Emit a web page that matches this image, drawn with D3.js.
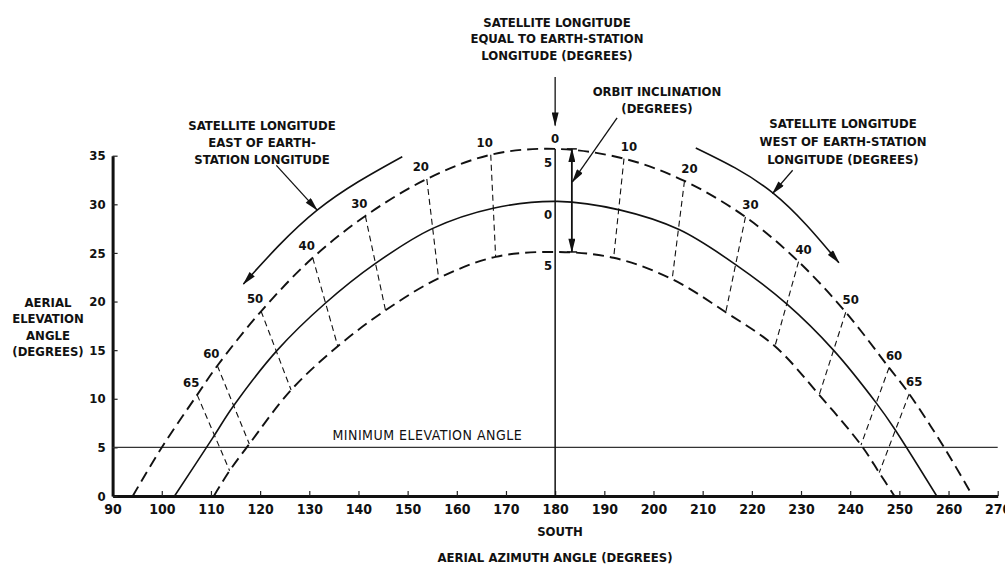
<!DOCTYPE html>
<html>
<head>
<meta charset="utf-8">
<script src="https://cdn.jsdelivr.net/npm/d3@7"></script>
<style>
body { margin: 0; background: #fff; }
text { font-family: "Liberation Sans Narrow", "DejaVu Sans Condensed", sans-serif; font-weight: bold; fill: #111; }
</style>
</head>
<body>
<svg id="chart" width="1005" height="565"></svg>
<script>
// tick labels
var azTicks = [90, 100, 110, 120, 130, 140, 150, 160, 170, 180, 190, 200, 210, 220, 230, 240, 250, 260, 270];
var elTicks = [0, 5, 10, 15, 20, 25, 30, 35];

// satellite longitude difference for each grid node
var eastLon = [10, 20, 30, 40, 50, 60, 65];
var westLon = [10, 20, 30, 40, 50, 60, 65];

// [azimuth, elevation], inclination +5 / 0 / -5
var upperEast = [[166.9, 35.1], [153.9, 32.6], [141.4, 28.8], [130.7, 24.5], [120.2, 19.0], [111.3, 13.4], [107.2, 10.4]];
var upperWest = [[194.0, 34.7], [206.3, 32.4], [218.7, 28.7], [229.5, 24.1], [239.1, 18.9], [247.9, 13.2], [252.0, 10.5]];
var zeroEast = [[167.4, 29.6], [155.0, 27.5], [143.4, 23.9], [133.2, 19.8], [123.5, 15.0], [114.5, 9.2], [110.4, 6.0]];
var zeroWest = [[193.3, 29.4], [205.2, 27.4], [216.7, 23.8], [227.2, 19.7], [236.6, 15.0], [245.4, 9.5], [248.9, 7.0]];
var lowerEast = [[167.9, 24.6], [156.3, 22.4], [145.5, 19.1], [135.8, 15.4], [126.3, 10.9], [117.8, 5.35], [113.8, 2.6]];
var lowerWest = [[191.9, 24.5], [203.8, 22.3], [214.7, 18.9], [224.7, 15.4], [233.7, 10.4], [242.2, 5.25], [245.9, 2.4]];

// points on the 180 line and where each curve runs down to the horizon
var upperPeak = [180, 35.7], zeroPeak = [180.5, 30.3], lowerPeak = [180, 25.1];
var upperTailEast = [[100.0, 5.0], [94.1, 0]], upperTailWest = [[259.1, 5.0], [264.9, 0]];
var zeroTailEast = [[102.6, 0]], zeroTailWest = [[257.6, 0]];
var lowerTailEast = [[110.6, 0]], lowerTailWest = [[249.0, 0]];

var minElevation = 5;

var svg = d3.select("svg#chart");

var x = d3.scaleLinear().domain([90, 270]).range([112.6, 997.7]);
var y = d3.scaleLinear().domain([0, 35]).range([496, 155.7]);

var defs = svg.append("defs");
defs.append("marker")
    .attr("id", "head")
    .attr("viewBox", "0 0 16 8")
    .attr("refX", 15).attr("refY", 4)
    .attr("markerWidth", 16).attr("markerHeight", 7)
    .attr("markerUnits", "userSpaceOnUse")
    .attr("orient", "auto-start-reverse")
    .append("path").attr("d", "M0,0L16,4L0,8Z").attr("fill", "#111");

// axes
var xAxis = svg.append("g")
    .attr("transform", "translate(0," + y(0) + ")")
    .call(d3.axisBottom(x).tickValues(azTicks).tickSizeInner(-5).tickSizeOuter(0).tickPadding(8));
var yAxis = svg.append("g")
    .attr("transform", "translate(" + x(90) + ",0)")
    .call(d3.axisLeft(y).tickValues(elTicks).tickSizeInner(-5).tickSizeOuter(0).tickPadding(7));

[xAxis, yAxis].forEach(function (a) {
    a.select(".domain").attr("stroke", "#111").attr("stroke-width", 3);
    a.selectAll(".tick line").attr("stroke", "#222").attr("stroke-width", 1.2);
    a.selectAll(".tick text").attr("font-family", null).style("fill", "#111");
});
xAxis.selectAll(".tick text").style("font-size", "14px");
yAxis.selectAll(".tick text").style("font-size", "13px");

// minimum elevation line
svg.append("line")
    .attr("x1", x(90)).attr("x2", x(270))
    .attr("y1", y(minElevation)).attr("y2", y(minElevation))
    .attr("stroke", "#333").attr("stroke-width", 1.2);

svg.append("text")
    .attr("x", x(154)).attr("y", y(minElevation) - 7)
    .attr("text-anchor", "middle")
    .style("font-size", "14px").style("font-weight", "normal")
    .style("letter-spacing", "0.5px")
    .text("MINIMUM ELEVATION ANGLE");

// vertical at south
svg.append("line")
    .attr("x1", x(180)).attr("x2", x(180))
    .attr("y1", y(upperPeak[1])).attr("y2", y(0))
    .attr("stroke", "#111").attr("stroke-width", 1.5);

var line = d3.line()
    .x(function (d) { return x(d[0]); })
    .y(function (d) { return y(d[1]); })
    .curve(d3.curveCatmullRom.alpha(0.5));

function curvePoints(tailE, east, peak, west, tailW) {
    return tailE.slice().reverse()
        .concat(east.slice().reverse())
        .concat([peak])
        .concat(west)
        .concat(tailW);
}

var curves = [
    { pts: curvePoints(upperTailEast, upperEast, upperPeak, upperWest, upperTailWest), dash: "11,6", w: 1.9 },
    { pts: curvePoints(zeroTailEast, zeroEast, zeroPeak, zeroWest, zeroTailWest), dash: null, w: 1.6 },
    { pts: curvePoints(lowerTailEast, lowerEast, lowerPeak, lowerWest, lowerTailWest), dash: "11,6", w: 1.9 }
];

svg.selectAll(".orbit")
    .data(curves)
    .enter().append("path")
    .attr("class", "orbit")
    .attr("d", function (d) { return line(d.pts); })
    .attr("fill", "none")
    .attr("stroke", "#111")
    .attr("stroke-width", function (d) { return d.w; })
    .attr("stroke-dasharray", function (d) { return d.dash; });

// cross lines joining +5 and -5 nodes of the same longitude
var cross = eastLon.map(function (lon, i) { return { lon: lon, side: "E", a: upperEast[i], b: lowerEast[i] }; })
    .concat(westLon.map(function (lon, i) { return { lon: lon, side: "W", a: upperWest[i], b: lowerWest[i] }; }));

svg.selectAll(".cross")
    .data(cross)
    .enter().append("line")
    .attr("class", "cross")
    .attr("x1", function (d) { return x(d.a[0]); })
    .attr("y1", function (d) { return y(d.a[1]); })
    .attr("x2", function (d) { return x(d.b[0]); })
    .attr("y2", function (d) { return y(d.b[1]); })
    .attr("stroke", "#111")
    .attr("stroke-width", 1.1)
    .attr("stroke-dasharray", "6,4");

svg.selectAll(".lonlabel")
    .data(cross)
    .enter().append("text")
    .attr("class", "lonlabel")
    .attr("x", function (d) { return x(d.a[0]) + (d.side == "E" ? -6 : 5); })
    .attr("y", function (d) { return y(d.a[1]) - 8; })
    .attr("text-anchor", "middle")
    .style("font-size", "13px")
    .text(function (d) { return d.lon; });

// 0 longitude and inclination labels
svg.append("text").attr("x", x(180)).attr("y", y(upperPeak[1]) - 6)
    .attr("text-anchor", "middle").style("font-size", "13px").text("0");
[[upperPeak, "5"], [zeroPeak, "0"], [lowerPeak, "5"]].forEach(function (p) {
    svg.append("text").attr("x", x(180) - 7).attr("y", y(p[0][1]) + 18)
        .attr("text-anchor", "middle").style("font-size", "13px").text(p[1]);
});

// orbit inclination double arrow
var incAz = 183.4;
svg.append("line")
    .attr("x1", x(incAz)).attr("x2", x(incAz))
    .attr("y1", y(upperPeak[1])).attr("y2", y(lowerPeak[1]))
    .attr("stroke", "#111").attr("stroke-width", 1.8)
    .attr("marker-start", "url(#head)").attr("marker-end", "url(#head)");
[upperPeak, lowerPeak].forEach(function (p) {
    svg.append("line")
        .attr("x1", x(incAz) - 5).attr("x2", x(incAz) + 5)
        .attr("y1", y(p[1])).attr("y2", y(p[1]))
        .attr("stroke", "#111").attr("stroke-width", 1.5);
});

// annotation arrows (data coords)
var arcs = [
    [[148.9, 34.9], [131.6, 29.4], [116.6, 21.8]],
    [[208.6, 35.8], [224.2, 31.2], [237.7, 24.0]]
];
var pointers = [
    [[123.3, 34.0], [131.6, 29.4]],
    [[228.3, 33.5], [224.2, 31.1]],
    [[192.6, 38.9], [183.5, 32.3]],
    [[180, 43.1], [180, 38.1]]
];
var arcLine = d3.line()
    .x(function (d) { return x(d[0]); })
    .y(function (d) { return y(d[1]); })
    .curve(d3.curveNatural);

svg.selectAll(".arc")
    .data(arcs)
    .enter().append("path")
    .attr("d", arcLine)
    .attr("fill", "none").attr("stroke", "#111").attr("stroke-width", 1.6)
    .attr("marker-end", "url(#head)");

svg.selectAll(".pointer")
    .data(pointers)
    .enter().append("line")
    .attr("x1", function (d) { return x(d[0][0]); })
    .attr("y1", function (d) { return y(d[0][1]); })
    .attr("x2", function (d) { return x(d[1][0]); })
    .attr("y2", function (d) { return y(d[1][1]); })
    .attr("stroke", "#111").attr("stroke-width", 1.3)
    .attr("marker-end", "url(#head)");

// text blocks
function block(cx, ys, lines, size) {
    var t = svg.append("text").attr("text-anchor", "middle").style("font-size", size + "px");
    lines.forEach(function (s, i) {
        t.append("tspan").attr("x", cx).attr("y", ys[i]).text(s);
    });
}
block(557, [26.5, 43, 60], ["SATELLITE LONGITUDE", "EQUAL TO EARTH-STATION", "LONGITUDE (DEGREES)"], 13);
block(657, [95.5, 112.8], ["ORBIT INCLINATION", "(DEGREES)"], 13);
block(262, [129.7, 147, 163.7], ["SATELLITE LONGITUDE", "EAST OF EARTH-", "STATION LONGITUDE"], 13);
block(843, [128, 146.4, 163.7], ["SATELLITE LONGITUDE", "WEST OF EARTH-STATION", "LONGITUDE (DEGREES)"], 13);
block(48, [306.7, 323.2, 339.7, 356.2], ["AERIAL", "ELEVATION", "ANGLE", "(DEGREES)"], 13);
block(560, [536], ["SOUTH"], 13);
block(555, [562], ["AERIAL  AZIMUTH ANGLE (DEGREES)"], 13);
</script>
</body>
</html>
